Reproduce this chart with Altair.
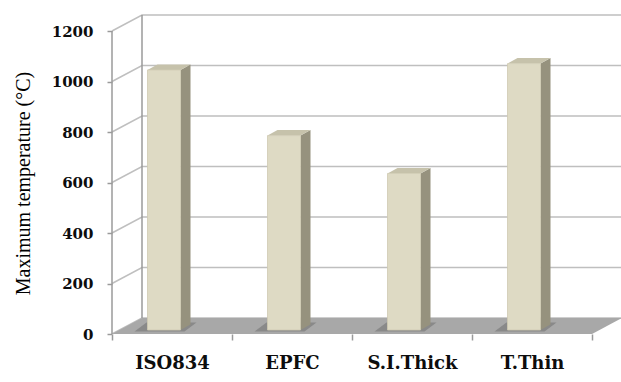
import altair as alt
import pandas as pd

# ---- data ----
categories = ["ISO834", "EPFC", "S.I.Thick", "T.Thin"]
max_temp = [1030, 770, 620, 1055]
y_ticks = [0, 200, 400, 600, 800, 1000, 1200]

# ---- pseudo-3D geometry (pixels) ----
SLOT_PX = 120.0          # width of one category slot
DEG_PX = 0.2525          # pixels per degree on the value axis
PLOT_W, PLOT_H = 509, 319
BACK_DX, BACK_DY = 30, 16   # offset of the back wall
BAR_SHIFT, BAR_HALF = -8, 16.5
BAR_LIFT = 4                # bar base sits a little behind the floor front
SIDE_DX, SIDE_DY = 10, 5.5  # bar depth


def ux(px):
    return px / SLOT_PX


def uy(px):
    return px / DEG_PX


XMAX = ux(PLOT_W)
YMAX = uy(PLOT_H)
n = len(categories)

xs = alt.Scale(domain=[0, XMAX], nice=False, zero=False)
ys = alt.Scale(domain=[0, YMAX], nice=False, zero=False)

# bar faces and their soft shadows on the floor
front, side, top, shadow = [], [], [], []
for i, (c, v) in enumerate(zip(categories, max_temp)):
    x1 = i + 0.5 + ux(BAR_SHIFT - BAR_HALF)
    x2 = i + 0.5 + ux(BAR_SHIFT + BAR_HALF)
    b = uy(BAR_LIFT)
    t = v + uy(BAR_LIFT)
    front.append({"cat": c, "x1": x1, "x2": x2, "y1": b, "y2": t})
    side.append({"cat": c, "x": x2, "lo": b, "hi": t})
    side.append({"cat": c, "x": x2 + ux(SIDE_DX), "lo": b + uy(SIDE_DY), "hi": t + uy(SIDE_DY)})
    top.append({"cat": c, "y": t, "xa": x1, "xb": x2})
    top.append({"cat": c, "y": t + uy(SIDE_DY), "xa": x1 + ux(SIDE_DX), "xb": x2 + ux(SIDE_DX)})
    shadow.append({"cat": c, "y": b - uy(1.5), "xa": x1 - ux(13), "xb": x2 + ux(4)})
    shadow.append({"cat": c, "y": b + uy(SIDE_DY + 2), "xa": x1 - ux(1), "xb": x2 + ux(SIDE_DX + 6)})

front_df = pd.DataFrame(front)
side_df = pd.DataFrame(side)
top_df = pd.DataFrame(top)
shadow_df = pd.DataFrame(shadow)

# gridlines running from the front axis across the side wall and the back wall
grid = []
for v in y_ticks:
    grid.append({"v": v, "x": 0.0, "y": v, "k": 0})
    grid.append({"v": v, "x": ux(BACK_DX), "y": v + uy(BACK_DY), "k": 1})
    grid.append({"v": v, "x": XMAX, "y": v + uy(BACK_DY), "k": 2})
grid_df = pd.DataFrame(grid)

floor_df = pd.DataFrame([
    {"y": 0.0, "xa": 0.0, "xb": float(n)},
    {"y": uy(BACK_DY), "xa": ux(BACK_DX), "xb": n + ux(BACK_DX)},
])

edges_df = pd.DataFrame([
    {"x": 0.0, "y": 0.0, "y2": float(y_ticks[-1])},
    {"x": ux(BACK_DX), "y": uy(BACK_DY), "y2": y_ticks[-1] + uy(BACK_DY)},
])

GRID = "#bfbfbf"
AXIS = "#9a9a9a"

label_js = "[" + ",".join("'" + c + "'" for c in categories) + "]"
x_axis = alt.Axis(
    values=[k / 2 for k in range(2 * n + 1)],
    labelExpr=f"datum.value % 1 == 0.5 ? {label_js}[floor(datum.value)] : ''",
    title=None,
    domain=False,
    grid=False,
    tickSize=6,
    tickColor=AXIS,
    tickWidth=1.5,
    tickOpacity={"condition": {"test": "datum.value % 1 == 0", "value": 1}, "value": 0},
    labelFont="DejaVu Serif",
    labelFontWeight="bold",
    labelFontSize=18,
    labelColor="#0d0d0d",
    labelBaseline="top",
    labelPadding=14,
    labelFlush=False,
    labelOverlap=False,
)
y_axis = alt.Axis(
    values=y_ticks,
    format="d",
    title="Maximum temperature (°C)",
    titleFont="Liberation Serif",
    titleFontWeight="normal",
    titleFontSize=20,
    titleColor="#000000",
    titleAngle=270,
    titleX=-89,
    titleY=168,
    titleAlign="center",
    titleBaseline="middle",
    domain=False,
    grid=False,
    tickSize=5,
    tickColor=AXIS,
    tickWidth=1.5,
    labelFont="DejaVu Serif",
    labelFontWeight="bold",
    labelFontSize=15,
    labelColor="#0d0d0d",
    labelPadding=14,
)


def X(field):
    return alt.X(field, scale=xs, axis=x_axis)


def Y(field):
    return alt.Y(field, scale=ys, axis=y_axis)


gridlines = alt.Chart(grid_df).mark_line(color=GRID, strokeWidth=1.5).encode(
    x=X("x:Q"), y=Y("y:Q"), detail="v:N", order="k:Q",
)

wall_edges = alt.Chart(edges_df).mark_rule(color=AXIS, strokeWidth=1.5).encode(
    x=X("x:Q"), y=Y("y:Q"), y2="y2:Q",
)

floor = alt.Chart(floor_df).mark_area(orient="horizontal", color="#a8a8a8").encode(
    y=Y("y:Q"), x=X("xa:Q"), x2="xb:Q",
)

bar_shadow = alt.Chart(shadow_df).mark_area(
    orient="horizontal", color="#6f6f6f", opacity=0.55
).encode(
    y=Y("y:Q"), x=X("xa:Q"), x2="xb:Q", detail="cat:N",
)

bar_front = alt.Chart(front_df).mark_rect(color="#dedac4", stroke="#cfcab2", strokeWidth=0.8).encode(
    x=X("x1:Q"), x2="x2:Q", y=Y("y1:Q"), y2="y2:Q",
)

bar_side = alt.Chart(side_df).mark_area(orient="vertical", color="#96927e").encode(
    x=X("x:Q"), y=Y("lo:Q"), y2="hi:Q", detail="cat:N",
)

bar_top = alt.Chart(top_df).mark_area(orient="horizontal", color="#c6c2ab").encode(
    y=Y("y:Q"), x=X("xa:Q"), x2="xb:Q", detail="cat:N",
)

chart = alt.layer(
    gridlines, floor, bar_shadow, wall_edges, bar_side, bar_top, bar_front
).properties(
    width=PLOT_W,
    height=PLOT_H,
    autosize=alt.AutoSizeParams(type="none"),
    padding={"left": 112, "top": 15, "right": 0, "bottom": 48},
    background="white",
).configure_view(strokeWidth=0)

chart.save("out.html", embed_options={"renderer": "svg", "actions": False})
